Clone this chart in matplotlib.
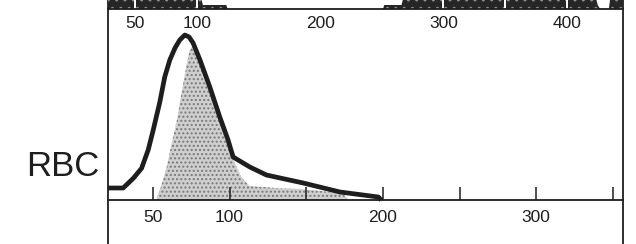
import matplotlib
matplotlib.use("Agg")
import matplotlib.pyplot as plt

# ---- data ----
# RBC histogram outline (cell volume in fL vs relative count)
rbc_x = [20.7, 30.6, 37.2, 42.6, 46.9, 50.2, 54.5, 57.7, 61, 64.4, 67.5, 70.8, 73.6,
         76.2, 80.7, 87.1, 93.6, 99, 102.3, 113.2, 124, 148, 172, 197, 199]
rbc_y = [12, 12, 21.7, 31.7, 50, 70, 98, 123, 140, 152, 160, 165, 163,
         157, 140, 113, 83, 60, 43, 33, 25, 17, 8, 3, 0]

# shaded reference distribution
shade_x = [52, 55, 59, 62, 65.7, 69, 72.2, 74, 76.2, 80.7, 87.1, 93.6, 99, 103, 108, 113, 130, 146, 160, 174, 178]
shade_y = [0, 12, 33, 55, 80, 110, 137, 150, 155, 138, 111, 81, 58, 38, 22, 14, 12, 11, 9, 6, 0]

# bottom axis ticks / labels
bot_ticks = [50, 100, 150, 200, 250, 300, 350]
bot_labels = ["50", "100", "", "200", "", "300", ""]

# upper panel (bottom edge of previous histogram) ticks / labels
top_ticks = [50, 100, 150, 200, 250, 300, 350, 400]
top_labels = ["50", "100", "", "200", "", "300", "", "400"]
top_x = [28, 104, 105, 124, 125, 251, 252, 266, 267, 424, 425, 427, 434, 435, 443, 446]
top_y = [9, 9, 4, 4, 0, 0, 4, 4, 9, 9, 4, 0, 0, 9, 9, 9]

label = "RBC"

# ---- figure ----
W, H = 636, 244
fig = plt.figure(figsize=(W / 100, H / 100), dpi=100)
fig.patch.set_facecolor("white")
ink = "#1e1e1e"
font = "Liberation Sans"

left_px, right_px = 108, 623
ax = fig.add_axes([left_px / W, 0, (right_px - left_px) / W, 1])
ax.set_xlim(20.7, 356.6)
ax.set_ylim(-44, 200)
ax.spines["top"].set_visible(False)
ax.spines["bottom"].set_position(("data", 0))
for s in ["left", "right", "bottom"]:
    ax.spines[s].set_linewidth(1.3)
    ax.spines[s].set_color(ink)
ax.set_yticks([])
ax.set_xticks(bot_ticks)
ax.set_xticklabels(bot_labels, fontsize=12.5, family=font, color=ink)
ax.tick_params(axis="x", direction="in", length=9.5, width=1.1, color=ink, pad=7)

ax.fill_between(shade_x, shade_y, 0, facecolor="#cfcfcf", edgecolor="#7a7a7a",
                hatch="....", linewidth=0, zorder=1)
ax.plot(rbc_x, rbc_y, color=ink, lw=3.4, solid_joinstyle="round",
        solid_capstyle="butt", zorder=3)

# upper strip: bottom of the previous histogram panel
band_h = 9
axt = fig.add_axes([left_px / W, (H - band_h) / H, (right_px - left_px) / W, band_h / H])
axt.set_xlim(28.1, 445.5)
axt.set_ylim(0, 9)
for s in ["top", "left", "right"]:
    axt.spines[s].set_visible(False)
axt.spines["bottom"].set_linewidth(1.3)
axt.spines["bottom"].set_color(ink)
axt.set_yticks([])
axt.fill_between(top_x, top_y, 0, facecolor="#262626", edgecolor="#8a8a8a",
                 hatch="..", linewidth=0, zorder=1)
axt.set_xticks(top_ticks)
axt.set_xticklabels(top_labels, fontsize=12.5, family=font, color=ink)
axt.tick_params(axis="x", direction="in", length=7, width=1.4, color="white", pad=5)
axt.patch.set_alpha(0)

fig.text(63 / W, 1 - 166 / H, label, ha="center", va="center",
         fontsize=25, family=font, color=ink)

fig.savefig("out.png", dpi=100)
